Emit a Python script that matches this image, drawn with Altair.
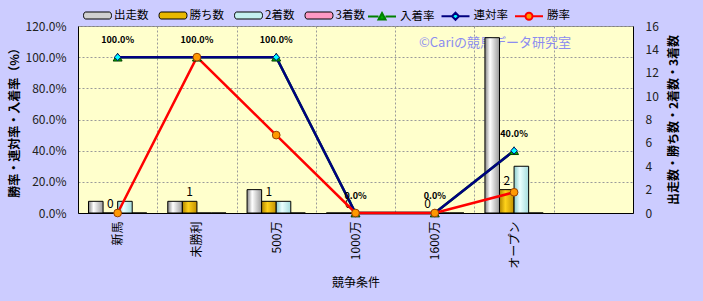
import altair as alt
import pandas as pd

# ---------------- data ----------------
categories = ["新馬", "未勝利", "500万", "1000万", "1600万", "オープン", " "]
race_cats = ["新馬", "未勝利", "500万", "1000万", "1600万", "オープン"]

bar_series = ["出走数", "勝ち数", "2着数", "3着数"]
starts = [1, 1, 2, 0, 0, 15]
wins = [0, 1, 1, 0, 0, 2]
seconds = [1, 0, 1, 0, 0, 4]
thirds = [0, 0, 0, 0, 0, 0]

rate_series = ["入着率", "連対率", "勝率"]
place_rate = [1.0, 1.0, 1.0, 0.0, 0.0, 0.4]
rentai_rate = [1.0, 1.0, 1.0, 0.0, 0.0, 0.4]
win_rate = [0.0, 1.0, 0.5, 0.0, 0.0, 0.133]

rate_ticks = [0.0, 0.2, 0.4, 0.6, 0.8, 1.0, 1.2]
count_ticks = [0, 2, 4, 6, 8, 10, 12, 14, 16]

count_rows = []
for s, vals in zip(bar_series, [starts, wins, seconds, thirds]):
    for c, v in zip(race_cats, vals):
        count_rows.append({"cat": c, "series": s, "value": v})
df_counts = pd.DataFrame(count_rows)

rate_rows = []
for s, vals in zip(rate_series, [place_rate, rentai_rate, win_rate]):
    for c, v in zip(race_cats, vals):
        rate_rows.append({"cat": c, "series": s, "value": v})
df_rates = pd.DataFrame(rate_rows)

FONT = "Noto Sans CJK JP"

# ---------------- scales / encodings ----------------
x_scale = alt.Scale(domain=categories, paddingInner=0, paddingOuter=0)
x_axis_def = alt.Axis(
    title="競争条件", labelAngle=270, grid=True, gridDash=[2, 2], gridColor="#9a9a9a",
    tickBand="extent", ticks=False, domainColor="#000000", labelPadding=8,
    titlePadding=8, labelFontSize=12, titleFontSize=12, titleFontWeight="normal",
    labelFont=FONT, titleFont=FONT, labelColor="#000000", titleColor="#000000",
)
x_enc = alt.X("cat:N", scale=x_scale, axis=x_axis_def)
xoff = alt.XOffset("series:N", scale=alt.Scale(domain=bar_series, paddingInner=0, paddingOuter=0.72))

count_scale = alt.Scale(domain=[0, 16], nice=False)
rate_scale = alt.Scale(domain=[0, 1.2], nice=False)

count_axis_def = alt.Axis(
    orient="right", values=count_ticks, grid=False, ticks=False, domainColor="#000000",
    labelPadding=12, title="出走数・勝ち数・2着数・3着数", titleAngle=270,
    titleBaseline="top", titleFontWeight="bold", titleFontSize=12, labelFontSize=12,
    labelFont=FONT, titleFont=FONT, labelColor="#222222", titleColor="#000000",
    titlePadding=10,
)
y_count = alt.Y("value:Q", scale=count_scale, axis=count_axis_def)

rate_axis_def = alt.Axis(
    orient="left", values=rate_ticks, format=".1%", grid=True, gridDash=[2, 2],
    gridColor="#9a9a9a", ticks=False, domainColor="#000000", labelPadding=12,
    title="勝率・連対率・入着率（%）", titleFontWeight="bold", titleFontSize=12,
    labelFontSize=12, labelFont=FONT, titleFont=FONT, labelColor="#222222",
    titleColor="#000000", titlePadding=3,
)
y_rate = alt.Y("value:Q", scale=rate_scale, axis=rate_axis_def)


def grad(stops):
    return alt.Gradient(
        gradient="linear", x1=0, x2=1, y1=0, y2=0,
        stops=[alt.GradientStop(offset=o, color=c) for o, c in stops],
    )


bar_grads = [
    grad([(0, "#858585"), (0.35, "#ffffff"), (1, "#9a9a9a")]),
    grad([(0, "#b08400"), (0.4, "#ffd21a"), (1, "#c29000")]),
    grad([(0, "#8ccccc"), (0.4, "#eaffff"), (1, "#a4dcdc")]),
    grad([(0, "#c0507a"), (0.4, "#ffb3d1"), (1, "#d06090")]),
]
bar_legend_colors = ["#d0d0d0", "#e8b800", "#c4f0f0", "#ff99c4"]

# ---------------- watermark ----------------
watermark = (
    alt.Chart(pd.DataFrame({"t": ["©Cariの競馬データ研究室"]}))
    .mark_text(fontSize=13, font=FONT, color="#8c8cf0", align="center", baseline="middle")
    .encode(text="t:N", x=alt.value(417), y=alt.value(17))
)

# ---------------- bars ----------------
bar_layers = []
for s, g in zip(bar_series, bar_grads):
    bar_layers.append(
        alt.Chart(df_counts)
        .transform_filter(alt.datum.series == s)
        .mark_bar(fill=g, stroke="#000000", strokeWidth=1)
        .encode(x=x_enc, xOffset=xoff, y=y_count)
    )

win_labels = (
    alt.Chart(df_counts)
    .transform_filter(alt.datum.series == "勝ち数")
    .mark_text(baseline="bottom", dy=-2, fontSize=12, font=FONT, color="#000000")
    .encode(x=x_enc, xOffset=xoff, y=y_count, text=alt.Text("value:Q"))
)
bars = alt.layer(watermark, *bar_layers, win_labels)

# ---------------- lines ----------------
line_colors = {"入着率": "#008000", "連対率": "#000080", "勝率": "#ff0000"}
marker_fill = {"入着率": "#00b000", "連対率": "#00ffff", "勝率": "#ff9900"}
marker_stroke = {"入着率": "#004000", "連対率": "#000080", "勝率": "#9a4000"}
marker_shape = {"入着率": "triangle-up", "連対率": "diamond", "勝率": "circle"}
marker_size = {"入着率": 80, "連対率": 45, "勝率": 60}

line_layers = []
for s in rate_series:
    line_layers.append(
        alt.Chart(df_rates)
        .transform_filter(alt.datum.series == s)
        .mark_line(color=line_colors[s], strokeWidth=2.5)
        .encode(x=x_enc, y=y_rate)
    )
point_layers = []
for s in rate_series:
    point_layers.append(
        alt.Chart(df_rates)
        .transform_filter(alt.datum.series == s)
        .mark_point(shape=marker_shape[s], filled=True, fill=marker_fill[s],
                    stroke=marker_stroke[s], strokeWidth=1, size=marker_size[s], opacity=1)
        .encode(x=x_enc, y=y_rate)
    )
rate_labels = (
    alt.Chart(df_rates)
    .transform_filter(alt.datum.series == "連対率")
    .mark_text(baseline="middle", dy=-17, fontSize=9, fontWeight="bold", font=FONT,
               color="#000000")
    .encode(x=x_enc, y=y_rate, text=alt.Text("value:Q", format=".1%"))
)

# ---------------- legends ----------------
bar_leg = alt.Legend(
    orient="none", legendX=5, legendY=-25, direction="horizontal", title=None,
    symbolType="M-0.85,-0.25H0.85A0.15,0.25 0 0,1 0.85,0.25H-0.85A0.15,0.25 0 0,1 -0.85,-0.25Z",
    symbolSize=784, symbolStrokeColor="#000000",
    symbolStrokeWidth=1, labelOffset=2, columnPadding=7.5, labelFont=FONT,
    labelFontSize=11.5, labelColor="#000000", padding=0,
)
bar_legend_layer = (
    alt.Chart(pd.DataFrame({"series": bar_series}))
    .mark_point(filled=True, size=0, opacity=1)
    .encode(color=alt.Color("series:N", scale=alt.Scale(domain=bar_series, range=bar_legend_colors),
                            legend=bar_leg))
)

rate_leg = alt.Legend(
    orient="none", legendX=289, legendY=-25, direction="horizontal", title=None,
    symbolSize=784, symbolStrokeWidth=2, symbolFillColor="#ffffff", labelOffset=3,
    columnPadding=2.5, labelFont=FONT, labelFontSize=11.5, labelColor="#000000", padding=0,
)
legend_shapes = [
    "M-1,0H-0.25M0.25,0H1M0,-0.25L0.25,0.2L-0.25,0.2Z",
    "M-1,0H-0.25M0.25,0H1M0,-0.25L0.25,0L0,0.25L-0.25,0Z",
    "M-1,0H-0.25M0.25,0H1M-0.25,0A0.25,0.25 0 1,0 0.25,0A0.25,0.25 0 1,0 -0.25,0Z",
]
rate_legend_layer = (
    alt.Chart(pd.DataFrame({"series": rate_series}))
    .mark_point(filled=True, size=0, opacity=1)
    .encode(
        fill=alt.Fill("series:N", scale=alt.Scale(domain=rate_series, range=[marker_fill[s] for s in rate_series]), legend=rate_leg),
        stroke=alt.Stroke("series:N", scale=alt.Scale(domain=rate_series, range=[line_colors[s] for s in rate_series]), legend=rate_leg),
        shape=alt.Shape("series:N", scale=alt.Scale(domain=rate_series, range=legend_shapes), legend=rate_leg),
    )
)

lines = alt.layer(*line_layers, *point_layers, rate_labels, bar_legend_layer, rate_legend_layer)

chart = (
    alt.layer(bars, lines)
    .resolve_scale(y="independent")
    .properties(
        width=555, height=187,
        autosize=alt.AutoSizeParams(type="none"),
        padding={"left": 78, "top": 26, "right": 70, "bottom": 88},
        background="#ccccff",
        view=alt.ViewBackground(fill="#ffffcc", stroke="#808080", strokeWidth=1),
    )
    .configure_view(fill="#ffffcc", stroke="#808080", strokeWidth=1)
)

chart.save("out.html", embed_options={"renderer": "svg", "actions": False})
